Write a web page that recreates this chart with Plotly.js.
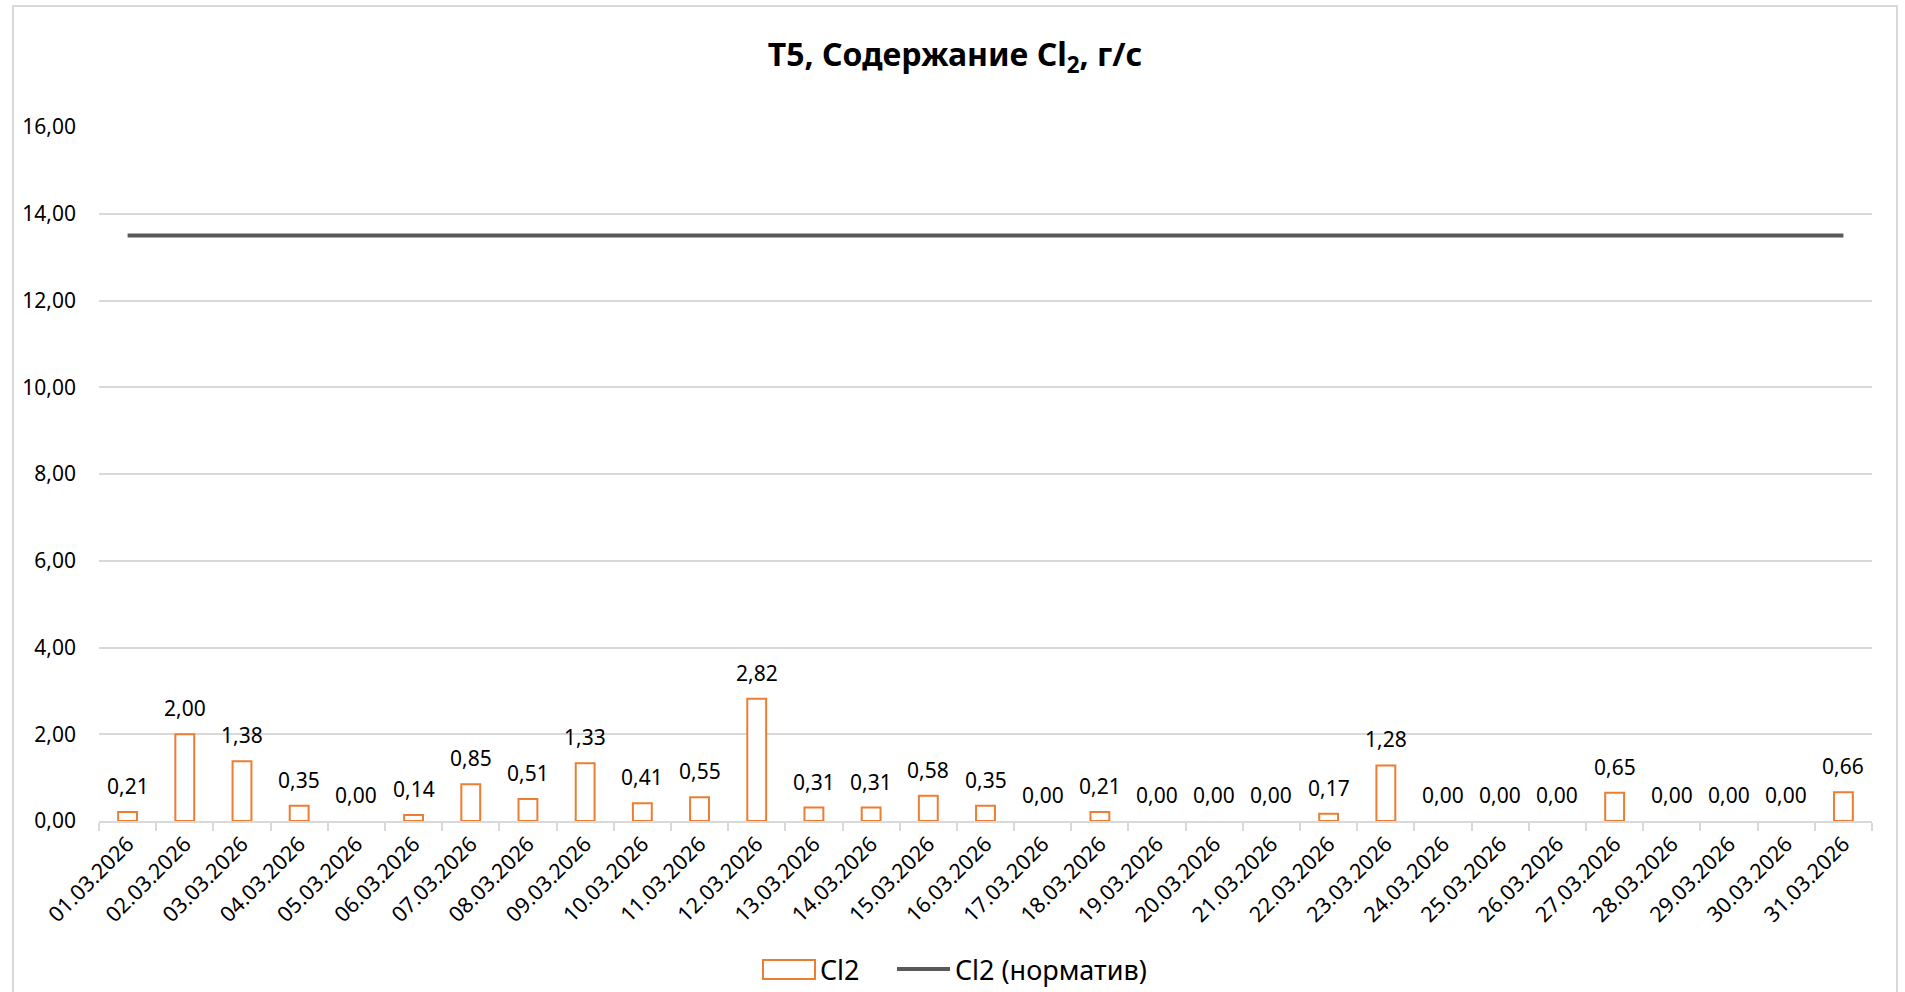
<!DOCTYPE html>
<html>
<head>
<meta charset="utf-8">
<script src="https://cdn.plot.ly/plotly-3.0.1.min.js"></script>
<style>
html,body{margin:0;padding:0;background:#fff;}
#chart{width:1905px;height:992px;}
</style>
</head>
<body>
<div id="chart"></div>
<script>
const dates = ["01.03.2026","02.03.2026","03.03.2026","04.03.2026","05.03.2026","06.03.2026","07.03.2026","08.03.2026","09.03.2026","10.03.2026","11.03.2026","12.03.2026","13.03.2026","14.03.2026","15.03.2026","16.03.2026","17.03.2026","18.03.2026","19.03.2026","20.03.2026","21.03.2026","22.03.2026","23.03.2026","24.03.2026","25.03.2026","26.03.2026","27.03.2026","28.03.2026","29.03.2026","30.03.2026","31.03.2026"];
const cl2 = [0.21,2.00,1.38,0.35,0.00,0.14,0.85,0.51,1.33,0.41,0.55,2.82,0.31,0.31,0.58,0.35,0.00,0.21,0.00,0.00,0.00,0.17,1.28,0.00,0.00,0.00,0.65,0.00,0.00,0.00,0.66];
const cl2Norm = [13.5,13.5,13.5,13.5,13.5,13.5,13.5,13.5,13.5,13.5,13.5,13.5,13.5,13.5,13.5,13.5,13.5,13.5,13.5,13.5,13.5,13.5,13.5,13.5,13.5,13.5,13.5,13.5,13.5,13.5,13.5];
const yTicks = [0,2,4,6,8,10,12,14,16];
const seriesNames = ['Cl2', 'Cl2 (норматив)'];

const FONT = '"Noto Sans", "Open Sans", sans-serif';
const W = 1905, H = 992;
const m = {l: 99, r: 33, t: 127, b: 171};
const pw = W - m.l - m.r, ph = H - m.t - m.b;
const px = x => (x - m.l) / pw;
const py = y => (H - m.b - y) / ph;

const BAR_COLOR = '#ED7D31', LINE_COLOR = '#595959';

const traces = [
  {
    type: 'bar', name: seriesNames[0], x: dates, y: cl2,
    marker: {color: '#ffffff', line: {color: BAR_COLOR, width: cl2.map(v => v === 0 ? 0 : 2)}},
    width: 0.33, cliponaxis: false, showlegend: false
  },
  {
    type: 'scatter', mode: 'lines', name: seriesNames[1], x: dates, y: cl2Norm,
    line: {color: LINE_COLOR, width: 4}, showlegend: false
  }
];

const fmt = v => v.toFixed(2).replace('.', ',');
const labelAnns = cl2.map((v, i) => ({
  x: dates[i], y: v, xref: 'x', yref: 'y', text: fmt(v), showarrow: false,
  yanchor: 'middle', yshift: 26, font: {family: FONT, size: 21, color: '#000'}
}));

const legendY = 969;
const layout = {
  width: W, height: H,
  margin: m,
  paper_bgcolor: '#fff', plot_bgcolor: '#fff',
  separators: ', ',
  font: {family: FONT, color: '#000'},
  title: {text: '<b>T5, Содержание Cl<sub>2</sub>, г/с</b>', x: 955 / W, xref: 'container', xanchor: 'center',
          y: 1 - 55 / H, yref: 'container', yanchor: 'middle',
          font: {family: FONT, size: 32, color: '#000'}},
  xaxis: {
    type: 'category', tickangle: -45, tickfont: {family: FONT, size: 21.5, color: '#000'},
    showgrid: false, showline: true, linecolor: '#D9D9D9', linewidth: 2,
    ticks: 'outside', tickson: 'boundaries', ticklen: 8, tickcolor: '#D9D9D9', tickwidth: 2,
    automargin: false, fixedrange: true
  },
  yaxis: {
    range: [0, 16], tickvals: yTicks, tickformat: '.2f',
    tickfont: {family: FONT, size: 21, color: '#000'},
    showgrid: true, gridcolor: '#D9D9D9', gridwidth: 2, zeroline: false,
    showline: false, ticks: '', ticklabelstandoff: 22, automargin: false, fixedrange: true
  },
  showlegend: false,
  shapes: [
    {type: 'rect', xref: 'paper', yref: 'paper', x0: px(13), x1: px(1897), y0: py(1000), y1: py(6),
     line: {color: '#D9D9D9', width: 2}, fillcolor: 'rgba(0,0,0,0)', layer: 'below'},
    {type: 'rect', xref: 'paper', yref: 'paper', x0: px(763), x1: px(815), y0: py(979), y1: py(960),
     line: {color: BAR_COLOR, width: 2}, fillcolor: '#fff'},
    {type: 'line', xref: 'paper', yref: 'paper', x0: px(897), x1: px(950), y0: py(legendY), y1: py(legendY),
     line: {color: LINE_COLOR, width: 4}}
  ],
  annotations: labelAnns.concat([
    {text: seriesNames[0], xref: 'paper', yref: 'paper', x: px(818), y: py(legendY), xanchor: 'left', yanchor: 'middle',
     showarrow: false, font: {family: FONT, size: 27, color: '#000'}},
    {text: seriesNames[1], xref: 'paper', yref: 'paper', x: px(953), y: py(legendY), xanchor: 'left', yanchor: 'middle',
     showarrow: false, font: {family: FONT, size: 27, color: '#000'}}
  ])
};

Plotly.newPlot('chart', traces, layout, {displayModeBar: false, staticPlot: true});
</script>
</body>
</html>
